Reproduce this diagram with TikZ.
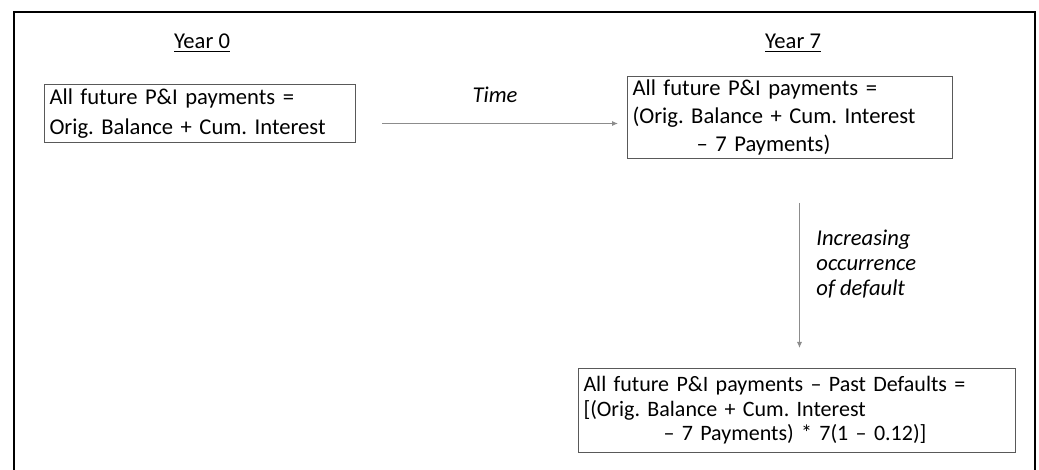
\documentclass[tikz,border=0pt]{standalone}
\usepackage{fontspec}
\setmainfont{Carlito}
\frenchspacing
\usetikzlibrary{arrows.meta,positioning}
\definecolor{boxgray}{HTML}{595959}
\definecolor{arrowgray}{HTML}{8C8C8C}
\begin{document}
\begin{tikzpicture}[x=0.5pt,y=-0.5pt,
	every node/.style={font=\fontsize{11.3}{12.5}\selectfont},
	valbox/.style={rectangle,draw=boxgray,line width=0.5pt,align=left,inner xsep=2.5pt,inner ysep=0pt,anchor=north west},
	conn/.style={-{Latex[length=3pt,width=2.6pt]},draw=arrowgray,line width=0.5pt}]
		\useasboundingbox (0,0) rectangle (1039,470);
		\draw[line width=1.2pt] (14,470) -- (14,12) -- (1035,12) -- (1035,470);

		\draw (202,43) node (y0) {\underline{Year 0}};
		\draw (793,43) node (y7) {\underline{Year 7}};

		\draw (44,84) node (box1) [valbox,minimum width=155.5pt,minimum height=29pt,text width=150.5pt,font=\fontsize{11.3}{15}\selectfont] {All future P\&I payments =\\Orig. Balance + Cum. Interest};
		\draw (627,76) node (box2) [valbox,minimum width=162.5pt,minimum height=41pt,text width=157.5pt,font=\fontsize{11.3}{14}\selectfont] {All future P\&I payments =\\(Orig. Balance + Cum. Interest\\\hspace*{32pt}– 7 Payments)};
		\draw (578,368) node (box3) [valbox,minimum width=218.5pt,minimum height=42pt,text width=213.5pt,font=\fontsize{11}{12.3}\selectfont] {All future P\&I payments – Past Defaults =\\{}[(Orig. Balance + Cum. Interest\\\hspace*{40pt}– 7 Payments) * 7(1 – 0.12)]};

		\draw[conn,shorten <=13pt,shorten >=4.5pt] ([yshift=-5pt]box1.east) -- ([yshift=-5pt]box1.east -| box2.west);
		\draw (495,95) node (time) {\itshape Time};

		\draw[conn,shorten <=22pt,shorten >=10pt] ([xshift=4.75pt]box2.south) -- ([xshift=4.75pt]box2.south |- box3.north);
		\draw (816,264) node (dflt) [anchor=west,align=left,inner xsep=0pt] {\itshape Increasing\\\itshape occurrence\\\itshape of default};
	\end{tikzpicture}
\end{document}
